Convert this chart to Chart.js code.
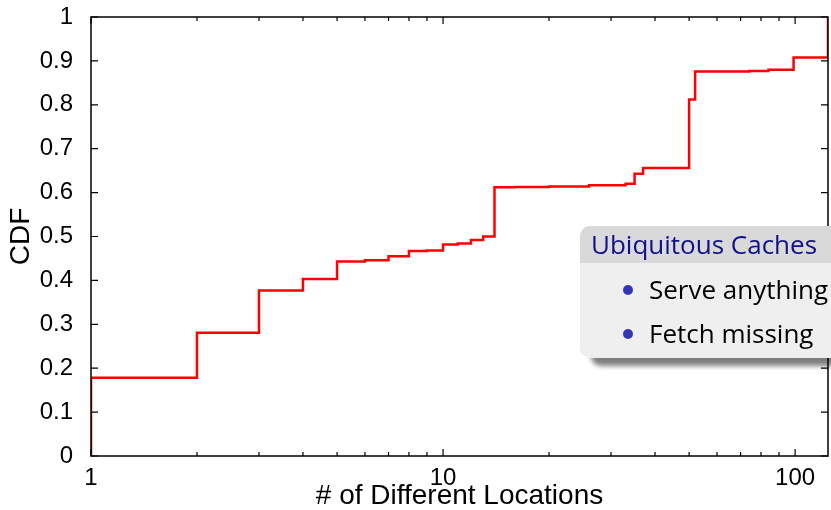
<!DOCTYPE html>
<html>
<head>
<meta charset="utf-8">
<script src="https://cdn.jsdelivr.net/npm/chart.js@4"></script>
<style>
  html, body { margin: 0; padding: 0; background: #fff; }
  #wrap { position: relative; width: 831px; height: 510px; overflow: hidden; }
  #chart { position: absolute; left: 0; top: 0; }
  .block {
    position: absolute; left: 580px; top: 226px; width: 280px;
    border-radius: 10px; background: #efefef;
    box-shadow: 11px 8px 5px rgba(0,0,0,0.5);
    font-family: "Open Sans", sans-serif; font-size: 26px;
  }
  .block .head {
    background: #d9d9d9; color: #10108a; border-radius: 10px 10px 0 0;
    height: 37px; line-height: 37px; padding-left: 11px;
  }
  .block ul { list-style: none; margin: 0; padding: 4px 0 3px 0; }
  .block li { position: relative; height: 44px; line-height: 44px; padding-left: 69px; color: #000; }
  .block li::before {
    content: ""; position: absolute; left: 43px; top: 18px;
    width: 10px; height: 10px; border-radius: 50%; background: #3535b5;
  }
</style>
</head>
<body>
<div id="wrap">
  <canvas id="chart" width="831" height="510"></canvas>
  <div class="block">
    <div class="head">Ubiquitous Caches</div>
    <ul>
      <li>Serve anything</li>
      <li>Fetch missing</li>
    </ul>
  </div>
</div>
<script>
// Valeurs (CDF en escalier)
const locations = [1, 1, 2, 3, 4, 5, 6, 7, 8, 9, 10, 11, 12, 13, 14, 16, 20, 26, 33, 35, 37, 50, 52, 74, 84, 99, 124];
const cdfValues = [0, 0.178, 0.281, 0.377, 0.403, 0.443, 0.446, 0.455, 0.467, 0.468, 0.482, 0.484, 0.492, 0.5, 0.612, 0.613, 0.614, 0.617, 0.62, 0.643, 0.656, 0.812, 0.876, 0.877, 0.88, 0.908, 1.0];
const xMajorTicks = [1, 10, 100];
const xMinorTicks = [2, 3, 4, 5, 6, 7, 8, 9, 20, 30, 40, 50, 60, 70, 80, 90];
const yTicks = [0, 0.1, 0.2, 0.3, 0.4, 0.5, 0.6, 0.7, 0.8, 0.9, 1];

const font = "'Liberation Sans', Arial, sans-serif";

// Cadre complet + graduations vers l'intérieur
const frameTicks = {
    id: 'frameTicks',
    afterDraw(chart) {
        const { ctx, chartArea: a, scales: { x, y } } = chart;
        ctx.save();
        ctx.strokeStyle = '#000';
        ctx.lineWidth = 1.5;
        ctx.strokeRect(a.left, a.top, a.right - a.left, a.bottom - a.top);
        ctx.lineWidth = 1.2;
        ctx.beginPath();
        yTicks.forEach(v => {
            const py = y.getPixelForValue(v);
            ctx.moveTo(a.left, py); ctx.lineTo(a.left + 7, py);
            ctx.moveTo(a.right, py); ctx.lineTo(a.right - 7, py);
        });
        xMajorTicks.forEach(v => {
            const px = x.getPixelForValue(v);
            ctx.moveTo(px, a.bottom); ctx.lineTo(px, a.bottom - 7);
            ctx.moveTo(px, a.top); ctx.lineTo(px, a.top + 7);
        });
        xMinorTicks.forEach(v => {
            const px = x.getPixelForValue(v);
            ctx.moveTo(px, a.bottom); ctx.lineTo(px, a.bottom - 4);
            ctx.moveTo(px, a.top); ctx.lineTo(px, a.top + 4);
        });
        ctx.stroke();
        ctx.restore();
    }
};

new Chart(document.getElementById('chart'), {
    type: 'line',
    data: {
        datasets: [{
            data: locations.map((l, i) => ({ x: l, y: cdfValues[i] })),
            borderColor: '#ff0000',
            borderWidth: 2.5,
            pointRadius: 0,
            stepped: 'before',
            fill: false
        }]
    },
    options: {
        responsive: false,
        animation: false,
        layout: { padding: { top: 17, right: 3, left: 0, bottom: 0 } },
        plugins: { legend: { display: false }, tooltip: { enabled: false } },
        scales: {
            x: {
                type: 'logarithmic',
                min: 1,
                max: 124,
                grid: { display: false },
                border: { display: false },
                afterBuildTicks: scale => { scale.ticks = xMajorTicks.map(v => ({ value: v })); },
                afterFit: scale => { scale.height = 54; },
                ticks: {
                    autoSkip: false,
                    maxRotation: 0,
                    padding: 0,
                    color: '#000',
                    font: { family: font, size: 24 },
                    callback: v => String(v)
                },
                title: {
                    display: true,
                    text: '# of Different Locations',
                    color: '#000',
                    padding: { top: 4, bottom: -3 },
                    font: { family: font, size: 28 }
                }
            },
            y: {
                min: 0,
                max: 1,
                grid: { display: false },
                border: { display: false },
                afterBuildTicks: scale => { scale.ticks = yTicks.map(v => ({ value: v })); },
                afterFit: scale => {
                    scale.width = 91;
                    scale.paddingTop = 0;
                    scale.paddingBottom = 0;
                },
                ticks: {
                    padding: 10,
                    color: '#000',
                    font: { family: font, size: 24 },
                    callback: v => (v === 0 || v === 1) ? String(v) : v.toFixed(1)
                },
                title: {
                    display: true,
                    text: 'CDF',
                    color: '#000',
                    padding: { top: 4, bottom: 0 },
                    font: { family: font, size: 28 }
                }
            }
        }
    },
    plugins: [frameTicks]
});
</script>
</body>
</html>
